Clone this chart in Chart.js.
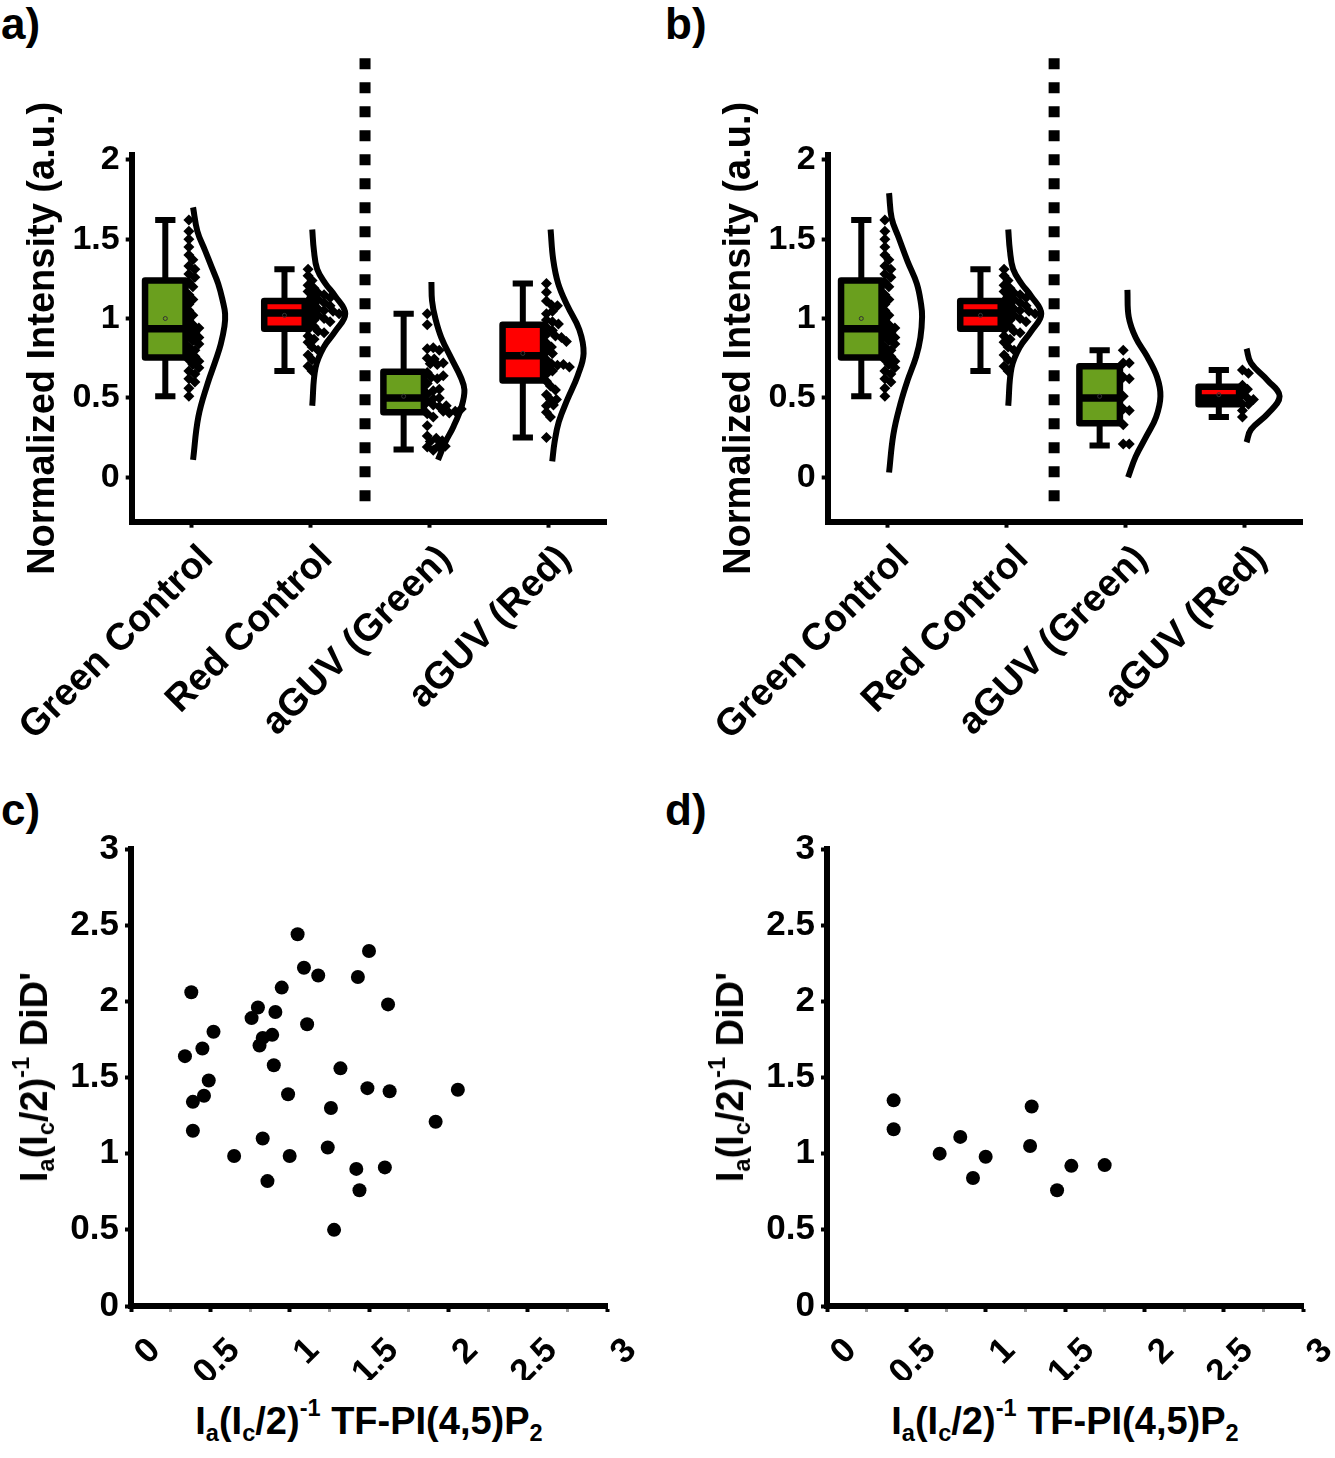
<!DOCTYPE html>
<html>
<head>
<meta charset="utf-8">
<script src="https://cdn.jsdelivr.net/npm/chart.js@4.4.1/dist/chart.umd.min.js"></script>
<style>
  body { margin: 0; background: #fff; width: 1335px; height: 1458px; position: relative; overflow: hidden;
         font-family: 'Liberation Sans', Arial, sans-serif; font-weight: bold; color: #000; }
  canvas { position: absolute; }
  .lbl { position: absolute; font-size: 44px; line-height: 1; }
  .xt { position: absolute; font-size: 38px; line-height: 1; white-space: nowrap; transform: translateX(-50%); }
  .yt { position: absolute; font-size: 38px; line-height: 1; white-space: nowrap; transform: translate(-50%, -50%) rotate(-90deg); }
  sub { font-size: 62%; vertical-align: -0.3em; line-height: 0; }
  sup { font-size: 62%; vertical-align: 0.75em; line-height: 0; }
</style>
</head>
<body>
<div class="lbl" style="left:1px;top:2px">a)</div>
<div class="lbl" style="left:665px;top:2px">b)</div>
<div class="lbl" style="left:1px;top:788px">c)</div>
<div class="lbl" style="left:665px;top:788px">d)</div>

<canvas id="chartA" width="670" height="770" style="left:0;top:0"></canvas>
<canvas id="chartB" width="639" height="770" style="left:696px;top:0"></canvas>
<canvas id="chartC" width="670" height="600" style="left:0;top:780px"></canvas>
<canvas id="chartD" width="640" height="600" style="left:696px;top:780px"></canvas>

<div class="yt" style="left:34px;top:1077px">I<sub>a</sub>(I<sub>c</sub>/2)<sup>-1</sup> DiD'</div>
<div class="yt" style="left:730px;top:1077px">I<sub>a</sub>(I<sub>c</sub>/2)<sup>-1</sup> DiD'</div>
<div class="xt" style="left:369px;top:1402px">I<sub>a</sub>(I<sub>c</sub>/2)<sup>-1</sup> TF-PI(4,5)P<sub>2</sub></div>
<div class="xt" style="left:1065px;top:1402px">I<sub>a</sub>(I<sub>c</sub>/2)<sup>-1</sup> TF-PI(4,5)P<sub>2</sub></div>

<script>
const groupLabels = ['Green Control', 'Red Control', 'aGUV (Green)', 'aGUV (Red)'];
const boxColors = ['#6a9f1e', '#ff0000', '#6a9f1e', '#ff0000'];
const yTicksAB = [0, 0.5, 1, 1.5, 2];
const yTickLabelsAB = ['0', '0.5', '1', '1.5', '2'];
const ticksCD = [0, 0.25, 0.5, 0.75, 1, 1.25, 1.5, 1.75, 2, 2.25, 2.5, 2.75, 3];
const tickLabelsCD = ['0', '', '0.5', '', '1', '', '1.5', '', '2', '', '2.5', '', '3'];

// box stats: [min, Q1, median, Q3, max]
const boxesA = [[0.51, 0.755, 0.935, 1.24, 1.62], [0.67, 0.935, 1.035, 1.11, 1.31],
                [0.175, 0.41, 0.50, 0.665, 1.03], [0.25, 0.61, 0.765, 0.96, 1.22]];
const boxesB = [[0.51, 0.755, 0.935, 1.24, 1.62], [0.67, 0.935, 1.035, 1.11, 1.31],
                [0.20, 0.34, 0.50, 0.70, 0.80], [0.38, 0.46, 0.50, 0.57, 0.675]];
const meansA = [1.00, 1.02, 0.51, 0.78];
const meansB = [1.00, 1.02, 0.51, 0.52];

// individual points (normalized intensity)
const greenControl = [1.62, 1.55, 1.50, 1.45, 1.40, 1.37, 1.33, 1.31, 1.28, 1.26,
                      1.23, 1.20, 1.15, 1.12, 1.09, 1.05, 1.02, 0.99, 0.96, 0.94,
                      0.93, 0.91, 0.89, 0.88, 0.86, 0.84, 0.82, 0.80, 0.78, 0.76,
                      0.74, 0.73, 0.71, 0.69, 0.67, 0.65, 0.62, 0.60, 0.56, 0.51];
const redControl = [1.31, 1.27, 1.24, 1.21, 1.19, 1.17, 1.16, 1.15, 1.14, 1.13,
                    1.12, 1.11, 1.10, 1.09, 1.08, 1.07, 1.06, 1.05, 1.045, 1.04,
                    1.03, 1.02, 1.01, 1.00, 0.99, 0.98, 0.97, 0.95, 0.93, 0.92,
                    0.91, 0.89, 0.87, 0.85, 0.82, 0.80, 0.77, 0.74, 0.70, 0.67];
const aguvGreenA = [0.525, 0.75, 0.545, 0.59, 0.715, 0.19, 0.475, 0.81, 0.40, 0.38,
                    0.455, 0.555, 0.26, 0.225, 0.17, 0.445, 0.415, 0.405, 0.45, 0.66,
                    0.245, 0.745, 0.815, 1.03, 0.23, 0.195, 0.495, 0.63, 0.96, 0.195,
                    0.415, 0.62, 0.325, 0.50, 0.71, 0.80, 0.43, 0.72, 0.64];
const aguvRedA = [1.22, 1.165, 1.11, 1.085, 1.08, 1.03, 1.045, 0.99, 0.98, 0.945,
                  0.965, 0.925, 0.90, 0.845, 0.82, 0.89, 0.88, 0.855, 0.79, 0.78,
                  0.74, 0.715, 0.705, 0.71, 0.69, 0.67, 0.695, 0.65, 0.605, 0.575,
                  0.55, 0.52, 0.49, 0.49, 0.45, 0.455, 0.41, 0.38, 0.25];
const aguvGreenB = [0.80, 0.72, 0.72, 0.63, 0.62, 0.51, 0.43, 0.42, 0.33, 0.21, 0.21];
const aguvRedB = [0.675, 0.655, 0.58, 0.555, 0.525, 0.50, 0.49, 0.46, 0.46, 0.42, 0.38];

// fitted distribution outlines: [value, relative width]
const curveGreenCtrlA = [[1.70, 0], [1.55, 0.13], [1.43, 0.36], [1.32, 0.57], [1.22, 0.76], [1.11, 0.90],
                         [1.03, 0.97], [0.95, 0.95], [0.84, 0.84], [0.74, 0.69], [0.59, 0.44], [0.38, 0.16], [0.11, 0]];
const curveRedCtrl = [[1.56, 0], [1.43, 0.05], [1.31, 0.15], [1.22, 0.40], [1.14, 0.70], [1.03, 1.0],
                      [0.92, 0.70], [0.82, 0.35], [0.69, 0.10], [0.45, 0]];
const curveAguvGreenA = [[1.23, 0], [1.11, 0.02], [1.00, 0.12], [0.88, 0.30], [0.75, 0.60], [0.63, 0.89],
                         [0.55, 1.0], [0.45, 0.92], [0.32, 0.67], [0.22, 0.42], [0.11, 0.2]];
const curveAguvRedA = [[1.56, 0], [1.37, 0.08], [1.22, 0.23], [1.08, 0.51], [0.93, 0.87], [0.78, 1.0],
                       [0.64, 0.82], [0.49, 0.51], [0.35, 0.25], [0.22, 0.12], [0.10, 0.05]];
const curveGreenCtrlB = [[1.79, 0], [1.63, 0.08], [1.51, 0.29], [1.36, 0.56], [1.22, 0.84], [1.09, 0.97],
                         [1.01, 1.0], [0.88, 0.95], [0.76, 0.82], [0.61, 0.56], [0.46, 0.34], [0.27, 0.13], [0.03, 0]];
const curveAguvGreenB = [[1.18, 0], [1.01, 0.04], [0.88, 0.25], [0.76, 0.6], [0.63, 0.9], [0.51, 1.0],
                         [0.38, 0.87], [0.26, 0.58], [0.13, 0.25], [0.0, 0.02]];
const curveAguvRedB = [[0.81, 0], [0.72, 0.13], [0.61, 0.64], [0.51, 1.0], [0.40, 0.64], [0.30, 0.13], [0.22, 0]];

// panel c / d: TF-PI(4,5)P2 (x) vs DiD' (y)
const cX = [1.05, 1.50, 1.09, 1.18, 1.43, 0.38, 0.95, 1.62, 0.80, 0.76, 0.91, 1.11, 0.52,
            0.45, 0.34, 0.89, 0.83, 0.81, 0.90, 1.32, 0.49, 1.49, 1.63, 2.06, 0.46, 0.39,
            0.99, 1.26, 1.92, 0.39, 0.83, 1.24, 0.65, 1.00, 1.42, 1.60, 0.86, 1.44, 1.28];
const cY = [2.44, 2.33, 2.22, 2.17, 2.16, 2.06, 2.09, 1.98, 1.96, 1.89, 1.93, 1.85, 1.80,
            1.69, 1.64, 1.78, 1.76, 1.71, 1.58, 1.56, 1.48, 1.43, 1.41, 1.42, 1.38, 1.34,
            1.39, 1.30, 1.21, 1.15, 1.10, 1.04, 0.985, 0.985, 0.90, 0.91, 0.82, 0.76, 0.50];
const dX = [0.42, 0.42, 0.84, 0.71, 1.00, 0.92, 1.29, 1.28, 1.54, 1.45, 1.75];
const dY = [1.35, 1.16, 1.11, 1.00, 0.98, 0.84, 1.31, 1.05, 0.92, 0.76, 0.925];

const FONT = "'Liberation Sans', Arial, sans-serif";
Chart.defaults.font.family = FONT;
Chart.defaults.color = '#000';

// layout helpers (x units = category spacing)
const X_PX = 119.2, Y_PX = 158.7, DIAM = 6;
const BOX_SHIFT = -0.218, BOX_HALF = 0.17, CAP_HALF = 0.085;
const CURVE_BASE = 0.015, CURVE_W = 0.277, SWARM_START = -0.02;

function swarm(values, center) {
  // lay the diamonds side by side so they barely cover each other
  const placed = [];
  return values.map(v => {
    let dx = 0;
    while (placed.some(p => Math.hypot(p.dx - dx, (p.v - v) * Y_PX) < DIAM)) dx += 1;
    placed.push({ v, dx });
    return { x: center + SWARM_START + dx / X_PX, y: v };
  });
}

function curve(points, center) {
  return points.map(([v, w]) => ({ x: center + CURVE_BASE + w * CURVE_W, y: v }));
}

function boxPlugin(stats, means, divider) {
  return {
    id: 'boxes',
    beforeDatasetsDraw(chart) {
      const { ctx, scales: { x, y } } = chart;
      const unit = x.getPixelForValue(1) - x.getPixelForValue(0);
      stats.forEach((s, i) => {
        const cx = x.getPixelForValue(i + BOX_SHIFT);
        const hw = BOX_HALF * unit, cw = CAP_HALF * unit;
        const [lo, q1, med, q3, hi] = s.map(v => y.getPixelForValue(v));
        ctx.save();
        ctx.strokeStyle = '#000';
        ctx.lineWidth = 6;
        ctx.beginPath();
        ctx.moveTo(cx, hi); ctx.lineTo(cx, q3);
        ctx.moveTo(cx, q1); ctx.lineTo(cx, lo);
        ctx.moveTo(cx - cw, hi); ctx.lineTo(cx + cw, hi);
        ctx.moveTo(cx - cw, lo); ctx.lineTo(cx + cw, lo);
        ctx.stroke();
        ctx.fillStyle = boxColors[i];
        ctx.lineJoin = 'round';
        ctx.beginPath();
        ctx.rect(cx - hw, q3, 2 * hw, q1 - q3);
        ctx.fill();
        ctx.lineWidth = 6.5;
        ctx.stroke();
        ctx.lineWidth = 7.5;
        ctx.beginPath();
        ctx.moveTo(cx - hw, med); ctx.lineTo(cx + hw, med);
        ctx.stroke();
        ctx.lineWidth = 1;
        ctx.strokeStyle = '#333';
        ctx.beginPath();
        ctx.arc(cx, y.getPixelForValue(means[i]), 2, 0, Math.PI * 2);
        ctx.stroke();
        ctx.restore();
      });
    },
    afterDatasetsDraw(chart) {
      const { ctx, scales: { x, y } } = chart;
      const px = x.getPixelForValue(divider);
      ctx.save();
      ctx.strokeStyle = '#000';
      ctx.lineWidth = 11;
      ctx.setLineDash([11, 13]);
      ctx.beginPath();
      ctx.moveTo(px, y.getPixelForValue(2.64));
      ctx.lineTo(px, y.getPixelForValue(-0.2));
      ctx.stroke();
      ctx.restore();
    }
  };
}

const axisLine = { display: true, width: 6, color: '#000' };
const tickMarks = { display: true, drawOnChartArea: false, drawTicks: true, tickLength: 6, tickWidth: 4, tickColor: '#000' };
const tickMarksCD = { display: true, drawOnChartArea: false, drawTicks: true, tickLength: 6,
                      tickWidth: c => (c.tick && c.tick.value % 0.5 ? 3 : 4),
                      tickColor: c => (c.tick && c.tick.value % 0.5 ? '#999' : '#000') };

function boxChart(id, stats, means, points, curves, divider, height, rightPad) {
  const datasets = [];
  points.forEach((vals, i) => datasets.push({
    data: swarm(vals, i), pointStyle: 'rectRot', pointRadius: 5.5, backgroundColor: '#000', borderWidth: 0
  }));
  curves.forEach((c, i) => datasets.push({
    data: curve(c, i), showLine: true, pointRadius: 0, borderColor: '#000', borderWidth: 6, tension: 0.4, fill: false
  }));
  new Chart(document.getElementById(id), {
    type: 'scatter',
    data: { datasets },
    options: {
      responsive: false, animation: false, devicePixelRatio: 1,
      layout: { padding: { top: 155, right: rightPad, left: 0, bottom: 0 } },
      plugins: { legend: { display: false }, tooltip: { enabled: false } },
      scales: {
        x: {
          type: 'linear', min: -0.5, max: 3.48,
          afterBuildTicks: ax => { ax.ticks = groupLabels.map((_, i) => ({ value: i })); },
          afterFit: s => { s.height = height - 521.7; s.paddingLeft = 0; s.paddingRight = 0; },
          ticks: { callback: v => groupLabels[v], minRotation: 45, maxRotation: 45, autoSkip: false,
                   padding: 9, labelOffset: 16, font: { size: 38, weight: 'bold' }, color: '#000' },
          grid: tickMarks, border: axisLine
        },
        y: {
          min: -0.28, max: 2.03,
          afterBuildTicks: ax => { ax.ticks = yTicksAB.map(v => ({ value: v })); },
          afterFit: s => { s.width = 131.7; s.paddingTop = 0; s.paddingBottom = 0; },
          ticks: { callback: (v, i) => yTickLabelsAB[i], padding: 6, font: { size: 34, weight: 'bold' }, color: '#000' },
          grid: tickMarks, border: axisLine,
          title: { display: true, text: 'Normalized Intensity (a.u.)', color: '#000',
                   font: { size: 38, weight: 'bold' }, padding: { top: 21, bottom: 0 } }
        }
      }
    },
    plugins: [boxPlugin(stats, means, divider)]
  });
}

function scatterChart(id, xs, ys, rightPad) {
  new Chart(document.getElementById(id), {
    type: 'scatter',
    data: { datasets: [{ data: xs.map((x, i) => ({ x, y: ys[i] })), pointRadius: 7, backgroundColor: '#000', borderWidth: 0 }] },
    options: {
      responsive: false, animation: false, devicePixelRatio: 1,
      layout: { padding: { top: 69, right: rightPad, left: 0, bottom: 0 } },
      plugins: { legend: { display: false }, tooltip: { enabled: false } },
      scales: {
        x: {
          type: 'linear', min: 0, max: 3,
          afterBuildTicks: ax => { ax.ticks = ticksCD.map(v => ({ value: v })); },
          afterFit: s => { s.height = 600 - 526; s.paddingLeft = 0; s.paddingRight = 0; },
          ticks: { callback: (v, i) => tickLabelsCD[i], minRotation: 45, maxRotation: 45, autoSkip: false,
                   padding: 18, labelOffset: 24, font: { size: 35, weight: 'bold' }, color: '#000' },
          grid: tickMarksCD, border: axisLine
        },
        y: {
          min: 0, max: 3,
          afterBuildTicks: ax => { ax.ticks = ticksCD.filter(v => v % 0.5 === 0).map(v => ({ value: v })); },
          afterFit: s => { s.width = 131; s.paddingTop = 0; s.paddingBottom = 0; },
          ticks: { callback: (v, i) => tickLabelsCD[i * 2], padding: 6, font: { size: 35, weight: 'bold' }, color: '#000' },
          grid: tickMarks, border: axisLine
        }
      }
    }
  });
}

boxChart('chartA', boxesA, meansA, [greenControl, redControl, aguvGreenA, aguvRedA],
         [curveGreenCtrlA, curveRedCtrl, curveAguvGreenA, curveAguvRedA], 1.458, 770, 64);
boxChart('chartB', boxesB, meansB, [greenControl, redControl, aguvGreenB, aguvRedB],
         [curveGreenCtrlB, curveRedCtrl, curveAguvGreenB, curveAguvRedB], 1.40, 770, 33);
scatterChart('chartC', cX, cY, 63);
scatterChart('chartD', dX, dY, 33);
</script>
</body>
</html>
